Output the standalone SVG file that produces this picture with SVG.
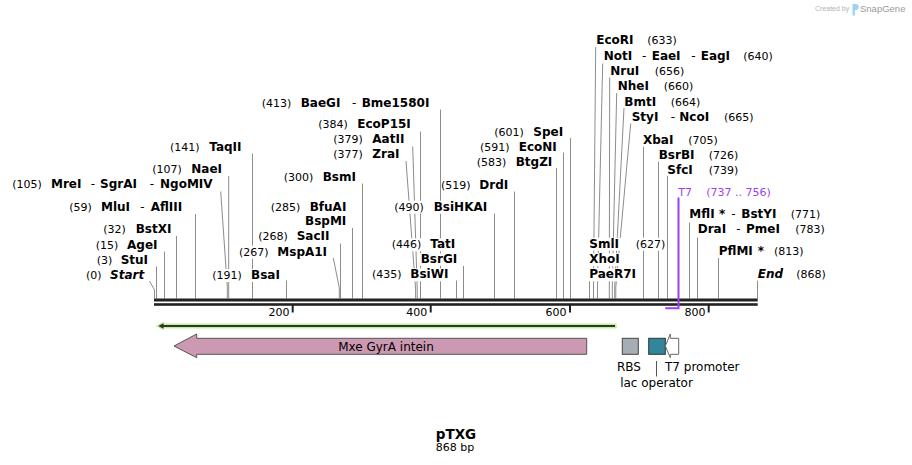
<svg xmlns="http://www.w3.org/2000/svg" width="912" height="465" viewBox="0 0 912 465">
<style>
text{font-family:"DejaVu Sans",Verdana,sans-serif;fill:#000}
.n{font-weight:bold;font-size:12px}
.bi{font-weight:bold;font-style:italic;font-size:12px}
.p{font-size:11px}
.h{font-size:12px}
.t7{fill:#9f3ff5;font-size:11px}
.bg{fill:#fff}
.c{stroke:#8c8c8c;stroke-width:1;fill:none}
.ax{fill:#222}
.tk{font-size:11px;text-anchor:end}
.f{font-size:12px}
</style>
<rect width="912" height="465" fill="#fff"/>

<g id="connectors">
<polyline class="c" points="149.5,281 154.5,290 154.5,298.5"/>
<line class="c" x1="156.5" y1="266.5" x2="156.5" y2="298.5"/>
<line class="c" x1="164.5" y1="251.5" x2="164.5" y2="298.5"/>
<line class="c" x1="176.5" y1="236" x2="176.5" y2="298.5"/>
<line class="c" x1="195.5" y1="214" x2="195.5" y2="298.5"/>
<polyline class="c" points="220.7,191.5 227.3,287 227.3,298.5"/>
<line class="c" x1="228.7" y1="176" x2="228.7" y2="298.5"/>
<line class="c" x1="252.5" y1="153.5" x2="252.5" y2="298.5"/>
<line class="c" x1="286.5" y1="280.5" x2="286.5" y2="298.5"/>
<polyline class="c" points="333.3,258 339.3,288 339.3,298.5"/>
<line class="c" x1="340.5" y1="243.5" x2="340.5" y2="298.5"/>
<line class="c" x1="352.5" y1="228" x2="352.5" y2="298.5"/>
<line class="c" x1="362.5" y1="183.5" x2="362.5" y2="298.5"/>
<polyline class="c" points="406,161 415.6,289 415.6,298.5"/>
<polyline class="c" points="412.7,146.5 417.2,289 417.2,298.5"/>
<line class="c" x1="420.5" y1="131.5" x2="420.5" y2="298.5"/>
<line class="c" x1="440.5" y1="109.5" x2="440.5" y2="298.5"/>
<line class="c" x1="456.5" y1="280.5" x2="456.5" y2="298.5"/>
<line class="c" x1="463.5" y1="266" x2="463.5" y2="298.5"/>
<line class="c" x1="494.5" y1="213.5" x2="494.5" y2="298.5"/>
<line class="c" x1="514.5" y1="191.5" x2="514.5" y2="298.5"/>
<line class="c" x1="556.5" y1="168" x2="556.5" y2="298.5"/>
<line class="c" x1="563.5" y1="152.5" x2="563.5" y2="298.5"/>
<line class="c" x1="570.5" y1="138" x2="570.5" y2="298.5"/>
<line class="c" x1="589.5" y1="280.5" x2="589.5" y2="298.5"/>
<polyline class="c" points="595.7,47 593.5,287 593.5,298.5"/>
<polyline class="c" points="602.7,63.5 597.5,287 597.5,298.5"/>
<polyline class="c" points="609.7,77.5 609.3,287 609.3,298.5"/>
<polyline class="c" points="616.7,93 612.3,287 612.3,298.5"/>
<polyline class="c" points="624,108 614.7,287 614.7,298.5"/>
<polyline class="c" points="630.7,123.5 615.8,287 615.8,298.5"/>
<line class="c" x1="643.5" y1="146.5" x2="643.5" y2="298.5"/>
<line class="c" x1="658.5" y1="161.5" x2="658.5" y2="298.5"/>
<line class="c" x1="667.5" y1="176" x2="667.5" y2="298.5"/>
<line class="c" x1="689.5" y1="222.5" x2="689.5" y2="298.5"/>
<line class="c" x1="697.5" y1="237.5" x2="697.5" y2="298.5"/>
<line class="c" x1="718.5" y1="258" x2="718.5" y2="298.5"/>
<line class="c" x1="757.5" y1="280.5" x2="757.5" y2="298.5"/>
</g>

<g id="sequence-axis">
<rect class="ax" x="154" y="298.5" width="603.7" height="3"/>
<rect class="ax" x="154" y="303.2" width="603.7" height="2.6"/>
<rect class="ax" x="291.7" y="305" width="2" height="7.5"/>
<rect class="ax" x="429.7" y="305" width="2" height="7.5"/>
<rect class="ax" x="569" y="305" width="2" height="7.5"/>
<rect class="ax" x="707.7" y="305" width="2" height="7.5"/>
<text class="tk" x="289.5" y="316">200</text>
<text class="tk" x="427.2" y="316">400</text>
<text class="tk" x="566.5" y="316">600</text>
<text class="tk" x="705.5" y="316">800</text>
</g>

<g id="site-start"><rect class="bg" x="85" y="269" width="59" height="13"/>
<text y="279"><tspan class="p" x="86">(0)</tspan><tspan class="bi" x="110">Start</tspan></text></g>
<g id="site-StuI"><rect class="bg" x="95.5" y="254.3" width="55" height="13"/>
<text y="264.3"><tspan class="p" x="96.7">(3)</tspan><tspan class="n" x="120.7">StuI</tspan></text></g>
<g id="site-AgeI"><rect class="bg" x="94.5" y="239" width="65" height="13"/>
<text y="249"><tspan class="p" x="95.7">(15)</tspan><tspan class="n" x="127">AgeI</tspan></text></g>
<g id="site-BstXI"><rect class="bg" x="102" y="223.3" width="71" height="13"/>
<text y="233.3"><tspan class="p" x="103.3">(32)</tspan><tspan class="n" x="135.7">BstXI</tspan></text></g>
<g id="site-MluI"><rect class="bg" x="68" y="201" width="120.5" height="13"/>
<text y="211"><tspan class="p" x="69.3">(59)</tspan><tspan class="n" x="101">MluI</tspan><tspan class="h" x="140.3">-</tspan><tspan class="n" x="150.7">AflIII</tspan></text></g>
<g id="site-MreI"><rect class="bg" x="11" y="178.3" width="202" height="13"/>
<text y="188.3"><tspan class="p" x="12.3">(105)</tspan><tspan class="n" x="51">MreI</tspan><tspan class="h" x="90.7">-</tspan><tspan class="n" x="100">SgrAI</tspan><tspan class="h" x="149.7">-</tspan><tspan class="n" x="160">NgoMIV</tspan></text></g>
<g id="site-NaeI"><rect class="bg" x="151" y="163.3" width="72.5" height="13"/>
<text y="173.3"><tspan class="p" x="152.3">(107)</tspan><tspan class="n" x="191.3">NaeI</tspan></text></g>
<g id="site-TaqII"><rect class="bg" x="169" y="141" width="78.5" height="13"/>
<text y="151"><tspan class="p" x="170">(141)</tspan><tspan class="n" x="209.3">TaqII</tspan></text></g>
<g id="site-BsaI"><rect class="bg" x="211" y="269" width="71" height="13"/>
<text y="279"><tspan class="p" x="212.3">(191)</tspan><tspan class="n" x="251">BsaI</tspan></text></g>
<g id="site-MspA1I"><rect class="bg" x="238" y="245.7" width="90.5" height="13"/>
<text y="255.7"><tspan class="p" x="239">(267)</tspan><tspan class="n" x="277.3">MspA1I</tspan></text></g>
<g id="site-SacII"><rect class="bg" x="257" y="230" width="77" height="13"/>
<text y="240"><tspan class="p" x="258.3">(268)</tspan><tspan class="n" x="296.7">SacII</tspan></text></g>
<g id="site-BfuAI"><rect class="bg" x="269.5" y="200.7" width="78.5" height="13"/><rect class="bg" x="304" y="215" width="44" height="13"/>
<text y="210.7"><tspan class="p" x="270.7">(285)</tspan><tspan class="n" x="309.7">BfuAI</tspan></text>
<text class="n" x="305" y="225">BspMI</text></g>
<g id="site-BsmI"><rect class="bg" x="282.5" y="171.3" width="75.5" height="13"/>
<text y="181.3"><tspan class="p" x="283.7">(300)</tspan><tspan class="n" x="322.7">BsmI</tspan></text></g>
<g id="site-ZraI"><rect class="bg" x="332" y="148.3" width="68.5" height="13"/>
<text y="158.3"><tspan class="p" x="333.3">(377)</tspan><tspan class="n" x="372.3">ZraI</tspan></text></g>
<g id="site-AatII"><rect class="bg" x="332" y="133.3" width="76" height="13"/>
<text y="143.3"><tspan class="p" x="333.3">(379)</tspan><tspan class="n" x="372.3">AatII</tspan></text></g>
<g id="site-EcoP15I"><rect class="bg" x="317" y="118" width="96" height="13"/>
<text y="128"><tspan class="p" x="318.3">(384)</tspan><tspan class="n" x="357.3">EcoP15I</tspan></text></g>
<g id="site-BaeGI"><rect class="bg" x="260.5" y="96.7" width="171.5" height="13"/>
<text y="106.7"><tspan class="p" x="261.7">(413)</tspan><tspan class="n" x="300.7">BaeGI</tspan><tspan class="h" x="352">-</tspan><tspan class="n" x="361.7">Bme1580I</tspan></text></g>
<g id="site-BsiWI"><rect class="bg" x="371" y="268.3" width="79" height="13"/>
<text y="278.3"><tspan class="p" x="372">(435)</tspan><tspan class="n" x="410.3">BsiWI</tspan></text></g>
<g id="site-TatI"><rect class="bg" x="390.5" y="238.3" width="67.5" height="13"/><rect class="bg" x="419.7" y="253.3" width="38.3" height="12.5"/>
<text y="248.3"><tspan class="p" x="391.7">(446)</tspan><tspan class="n" x="430.3">TatI</tspan></text>
<text class="n" x="420.7" y="263.3">BsrGI</text></g>
<g id="site-BsiHKAI"><rect class="bg" x="393" y="200.7" width="96" height="13"/>
<text y="210.7"><tspan class="p" x="394.3">(490)</tspan><tspan class="n" x="433.7">BsiHKAI</tspan></text></g>
<g id="site-DrdI"><rect class="bg" x="441" y="179" width="69" height="12.5"/>
<text y="189"><tspan class="p" x="441">(519)</tspan><tspan class="n" x="479.3">DrdI</tspan></text></g>
<g id="site-BtgZI"><rect class="bg" x="475.5" y="155.7" width="77" height="13"/>
<text y="165.7"><tspan class="p" x="476.7">(583)</tspan><tspan class="n" x="515.7">BtgZI</tspan></text></g>
<g id="site-EcoNI"><rect class="bg" x="479" y="141" width="79" height="12"/>
<text y="151"><tspan class="p" x="480">(591)</tspan><tspan class="n" x="518.7">EcoNI</tspan></text></g>
<g id="site-SpeI"><rect class="bg" x="493" y="126" width="72" height="12"/>
<text y="136"><tspan class="p" x="494.3">(601)</tspan><tspan class="n" x="533.3">SpeI</tspan></text></g>

<g id="site-SmlI"><rect class="bg" x="588.5" y="237.7" width="77.5" height="13"/><rect class="bg" x="588.5" y="253.3" width="33" height="13"/><rect class="bg" x="588.5" y="268.3" width="50" height="13"/>
<text y="247.7"><tspan class="n" x="589.3">SmlI</tspan><tspan class="p" x="635.7">(627)</tspan></text>
<text class="n" x="589.3" y="263.3">XhoI</text>
<text class="n" x="589.3" y="278.3">PaeR7I</text></g>
<g id="site-EcoRI"><rect class="bg" x="595.5" y="34.3" width="82.5" height="12.5"/>
<text y="44.3"><tspan class="n" x="596.3">EcoRI</tspan><tspan class="p" x="647.3">(633)</tspan></text></g>
<g id="site-NotI"><rect class="bg" x="603" y="50.3" width="171" height="12.5"/>
<text y="60.3"><tspan class="n" x="603.7">NotI</tspan><tspan class="h" x="642">-</tspan><tspan class="n" x="651.7">EaeI</tspan><tspan class="h" x="691.3">-</tspan><tspan class="n" x="700.7">EagI</tspan><tspan class="p" x="743.3">(640)</tspan></text></g>
<g id="site-NruI"><rect class="bg" x="610" y="65.3" width="75" height="12"/>
<text y="75.3"><tspan class="n" x="610.3">NruI</tspan><tspan class="p" x="654.7">(656)</tspan></text></g>
<g id="site-NheI"><rect class="bg" x="617.2" y="80.3" width="76.8" height="12"/>
<text y="90.3"><tspan class="n" x="617.7">NheI</tspan><tspan class="p" x="663.7">(660)</tspan></text></g>
<g id="site-BmtI"><rect class="bg" x="624" y="95.7" width="77" height="12"/>
<text y="105.7"><tspan class="n" x="624.3">BmtI</tspan><tspan class="p" x="670.7">(664)</tspan></text></g>
<g id="site-StyI"><rect class="bg" x="631.2" y="110.7" width="122.8" height="12.5"/>
<text y="120.7"><tspan class="n" x="631.7">StyI</tspan><tspan class="h" x="670.7">-</tspan><tspan class="n" x="679.3">NcoI</tspan><tspan class="p" x="724">(665)</tspan></text></g>
<g id="site-XbaI"><rect class="bg" x="642.5" y="134" width="76.5" height="12.5"/>
<text y="144"><tspan class="n" x="643">XbaI</tspan><tspan class="p" x="688.3">(705)</tspan></text></g>
<g id="site-BsrBI"><rect class="bg" x="658.2" y="149" width="80.8" height="12.5"/>
<text y="159"><tspan class="n" x="658.7">BsrBI</tspan><tspan class="p" x="708.7">(726)</tspan></text></g>
<g id="site-SfcI"><rect class="bg" x="666.8" y="164" width="72.2" height="12"/>
<text y="174"><tspan class="n" x="667.3">SfcI</tspan><tspan class="p" x="708.7">(739)</tspan></text></g>
<g id="primer-T7"><rect class="bg" x="677.5" y="185.7" width="96" height="12"/>
<polyline points="678.5,197.5 678.5,308.3 665.3,308.3" fill="none" stroke="#9f3ff5" stroke-width="2"/>
<text y="195.7"><tspan class="t7" x="678.3">T7</tspan><tspan class="t7" x="706.3">(737 .. 756)</tspan></text></g>
<g id="site-MflI"><rect class="bg" x="688.8" y="208.3" width="132.2" height="13.5"/>
<text y="218.3"><tspan class="n" x="689.3">MflI</tspan><tspan class="n" x="719">*</tspan><tspan class="h" x="731.3">-</tspan><tspan class="n" x="741.3">BstYI</tspan><tspan class="p" x="790.7">(771)</tspan></text></g>
<g id="site-DraI"><rect class="bg" x="697.2" y="223.3" width="128.8" height="13.5"/>
<text y="233.3"><tspan class="n" x="697.7">DraI</tspan><tspan class="h" x="736.3">-</tspan><tspan class="n" x="746">PmeI</tspan><tspan class="p" x="795.3">(783)</tspan></text></g>
<g id="site-PflMI"><rect class="bg" x="718.2" y="245" width="86.8" height="12.5"/>
<text y="255"><tspan class="n" x="718.7">PflMI</tspan><tspan class="n" x="757.7">*</tspan><tspan class="p" x="774">(813)</tspan></text></g>
<g id="site-end"><rect class="bg" x="757.2" y="268.3" width="69.8" height="12"/>
<text y="278.3"><tspan class="bi" x="757.7">End</tspan><tspan class="p" x="796.3">(868)</tspan></text></g>

<g id="feature-orf">
<rect x="160" y="323.5" width="456.7" height="5" fill="#bff095"/>
<polygon points="155.5,326 164,321.5 164,330.5" fill="#bff095"/>
<line x1="161" y1="326" x2="615" y2="326" stroke="#333" stroke-width="2"/>
<polygon points="158.3,326 163.5,323.3 163.5,328.7" fill="#333"/>
</g>
<g id="feature-intein">
<polygon points="174,346 196.7,334 196.7,338.3 586.7,338.3 586.7,354.3 196.7,354.3 196.7,357.7" fill="#cc99b2" stroke="#555" stroke-width="1"/>
<text class="f" x="386" y="350.5" text-anchor="middle">Mxe GyrA intein</text>
</g>
<g id="feature-RBS">
<rect x="622.3" y="338.3" width="16" height="16" fill="#a6adb4" stroke="#444" stroke-width="1"/>
<text class="f" x="617" y="371">RBS</text>
</g>
<g id="feature-lac-operator">
<rect x="648.7" y="338.3" width="16.6" height="16" fill="#2f869d" stroke="#333" stroke-width="1"/>
<line x1="656.5" y1="361" x2="656.5" y2="376.5" stroke="#555" stroke-width="1"/>
<text class="f" x="656.5" y="386.7" text-anchor="middle">lac operator</text>
</g>
<g id="feature-T7-promoter">
<polygon points="665.3,346 670.3,334 670.3,338.3 678.7,338.3 678.7,354.3 670.3,354.3 670.3,357.7" fill="#fff" stroke="#666" stroke-width="1"/>
<text class="f" x="665" y="371">T7 promoter</text>
</g>

<g id="title">
<text x="456" y="439" text-anchor="middle" font-weight="bold" font-size="13.5">pTXG</text>
<text x="455" y="451" text-anchor="middle" font-size="11" fill="#222">868 bp</text>
</g>

<g id="watermark">
<text x="815" y="11" font-family="Liberation Sans, Arial, sans-serif" font-size="7" style="fill:#b4b4b4;font-family:'Liberation Sans',Arial,sans-serif">Created by</text>
<path d="M852.5,4 h3.2 a3,3 0 0 1 0,6 h-0.8 v5.5 h-2.4 z" fill="#9dd2f0"/>
<text x="860" y="11.5" style="fill:#9a9a9a;font-family:'Liberation Sans',Arial,sans-serif;font-size:9.5px">SnapGene</text>
</g>
</svg>
